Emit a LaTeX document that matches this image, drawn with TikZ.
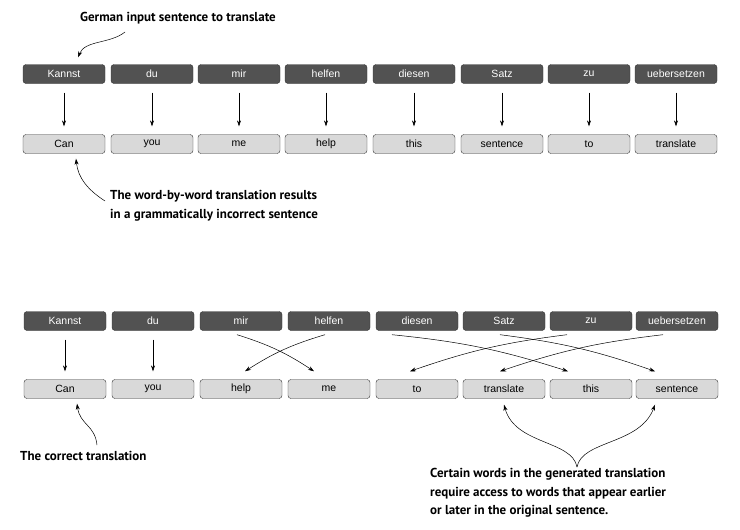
\documentclass[tikz,border=0pt]{standalone}
\usepackage{fontspec}
\setmainfont{Liberation Sans}
\newfontfamily\notefont{PT Sans}
\usetikzlibrary{arrows.meta}
\begin{document}
\begin{tikzpicture}[x=1pt,y=-1pt,
    de/.style={draw=black!80,fill=black!68,text=white,rounded corners=3pt,minimum width=82pt,minimum height=19pt,inner sep=0pt,font=\fontsize{10.5}{11}\selectfont},
    en/.style={draw=black!80,fill=black!15,text=black,rounded corners=3pt,minimum width=82pt,minimum height=19pt,inner sep=0pt,font=\fontsize{10.5}{11}\selectfont},
    note/.style={font=\notefont\bfseries\fontsize{13}{18.5}\selectfont,align=left,anchor=west,inner sep=0pt},
    arr/.style={-{Stealth[length=6pt,width=4pt]},line width=0.5pt},
    ]
    \useasboundingbox (0,0) rectangle (740,530);
    
    % first pair of rows
    \foreach \x/\d/\e [count=\i] in {64/Kannst/Can,152/du/you,239/mir/me,326/helfen/help,414/diesen/this,502/Satz/sentence,589/zu/to,676/uebersetzen/translate}{
        \node[de] (a\i) at (\x,74) {\d};
        \node[en] (b\i) at (\x,144) {\e};
        \draw[arr] ([yshift=-9pt]a\i.south) -- ([yshift=8pt]b\i.north);
    }
    
    % second pair of rows
    \foreach \x/\d/\e [count=\i] in {65/Kannst/Can,153/du/you,241/mir/help,329/helfen/me,417/diesen/to,504/Satz/translate,591/zu/this,677/uebersetzen/sentence}{
        \node[de] (c\i) at (\x,321) {\d};
        \node[en] (d\i) at (\x,389) {\e};
    }
    \draw[arr] ([yshift=-9pt]c1.south) -- ([yshift=8pt]d1.north);
    \draw[arr] ([yshift=-9pt]c2.south) -- ([yshift=8pt]d2.north);
    % reordered words
    \draw[arr] ([xshift=-4pt,yshift=-4pt]c3.south) to[bend left=8] ([xshift=-15pt,yshift=8pt]d4.north);
    \draw[arr] ([xshift=-4pt,yshift=-4pt]c4.south) to[bend right=8] ([xshift=4pt,yshift=8pt]d3.north);
    \draw[arr] ([xshift=-25pt,yshift=-4pt]c5.south) to[bend left=6] ([xshift=-23pt,yshift=8pt]d7.north);
    \draw[arr] ([xshift=-24pt,yshift=-4pt]c7.south) to[bend right=6] ([xshift=-7pt,yshift=8pt]d5.north);
    \draw[arr] ([xshift=-4pt,yshift=-4pt]c6.south) to[bend left=6] ([xshift=-22pt,yshift=8pt]d8.north);
    \draw[arr] ([xshift=-14pt,yshift=-4pt]c8.south) to[bend right=6] ([xshift=-4pt,yshift=8pt]d6.north);
    
    % notes
    \node[note] (n1) at (80,18) {German input sentence to translate};
    \draw[arr] (125,32) .. controls (110,44) and (85,40) .. ([xshift=14pt,yshift=7pt]a1.north);
    \node[note] (n2) at (110,206) {The word-by-word translation results\\in a grammatically incorrect sentence};
    \draw[arr] ([xshift=-5pt,yshift=5pt]n2.west) .. controls (88,190) and (78,178) .. ([xshift=12pt,yshift=-5pt]b1.south);
    \node[note] (n3) at (20,456) {The correct translation};
    \draw[arr] (97,445) .. controls (95,425) and (80,425) .. ([xshift=12pt,yshift=-5pt]d1.south);
    \node[note] (n4) at (430,493) {Certain words in the generated translation\\require access to words that appear earlier\\or later in the original sentence.};
    \coordinate (fork) at (577,467);
    \draw[arr] (fork) .. controls (572,440) and (515,445) .. ([yshift=-6pt]d6.south);
    \draw[arr] (fork) .. controls (582,440) and (640,445) .. ([xshift=-22pt,yshift=-6pt]d8.south);
\end{tikzpicture}
\end{document}
